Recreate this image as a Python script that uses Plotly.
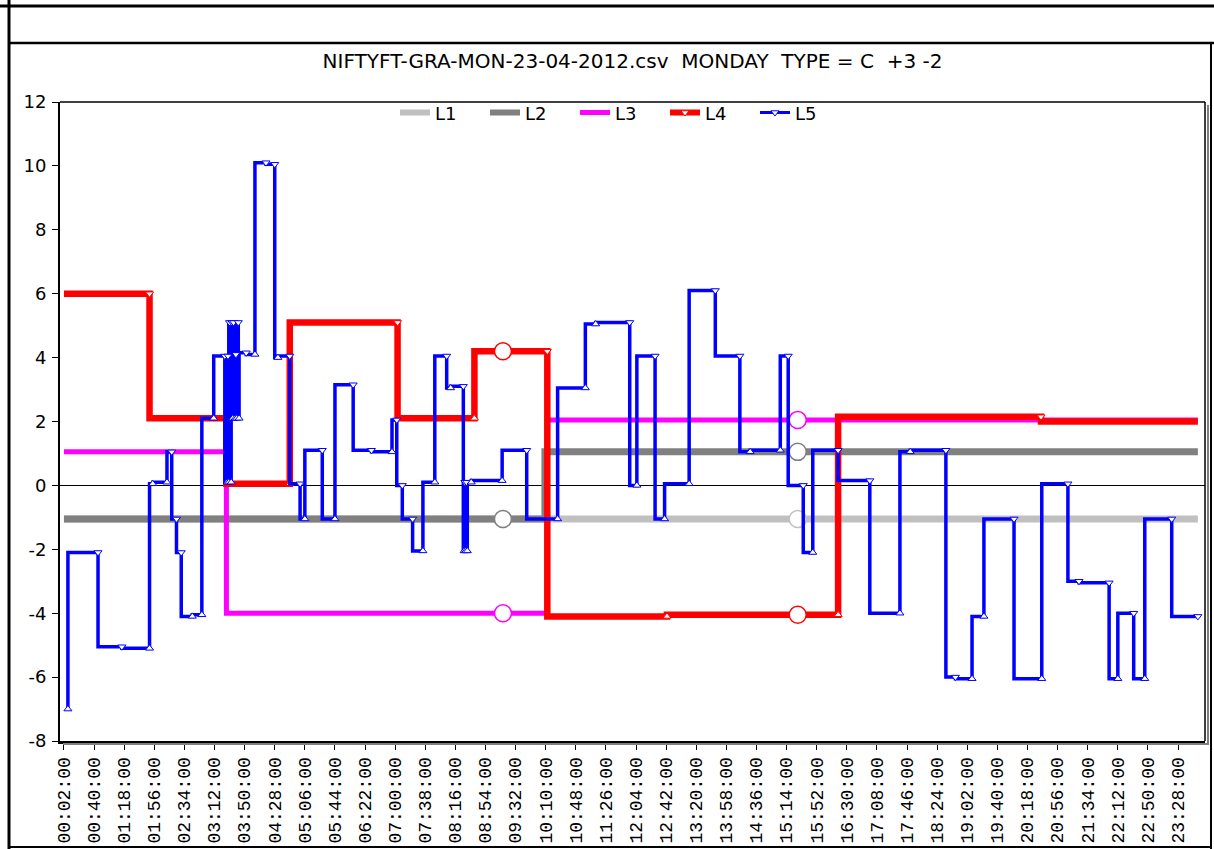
import plotly.graph_objects as go

# ---------------- data ----------------
tick_labels = ["00:02:00", "00:40:00", "01:18:00", "01:56:00", "02:34:00", "03:12:00",
               "03:50:00", "04:28:00", "05:06:00", "05:44:00", "06:22:00", "07:00:00",
               "07:38:00", "08:16:00", "08:54:00", "09:32:00", "10:10:00", "10:48:00",
               "11:26:00", "12:04:00", "12:42:00", "13:20:00", "13:58:00", "14:36:00",
               "15:14:00", "15:52:00", "16:30:00", "17:08:00", "17:46:00", "18:24:00",
               "19:02:00", "19:40:00", "20:18:00", "20:56:00", "21:34:00", "22:12:00",
               "22:50:00", "23:28:00"]
y_ticks = [-8, -6, -4, -2, 0, 2, 4, 6, 8, 10, 12]

START = 2  # minute of day where the level lines begin

# level lines: minute where each held level ends, and the level
L1_end = [1433]
L1_val = [-1.05]
L2_end = [609, 1433]
L2_val = [-1.05, 1.05]
L3_end = [207, 612, 1433]
L3_val = [1.05, -4.0, 2.05]
L4_end = [110, 207, 287, 423, 520, 612, 763, 979, 1235, 1433]
L4_val = [6.0, 2.1, 0.05, 5.1, 2.1, 4.2, -4.1, -4.05, 2.15, 2.0]

# L5: minute of each sample and value
L5_time = [7, 45, 75, 110, 114, 132, 138, 144, 150, 164, 176, 191, 205, 208, 209, 210,
           211, 213, 214, 215, 216, 218, 219, 220, 222, 223, 232, 243, 257, 268, 272, 287,
           300, 306, 328, 344, 367, 390, 416, 422, 429, 442, 455, 470, 485, 490, 506, 507,
           508, 509, 510, 511, 516, 555, 586, 625, 660, 673, 716, 725, 748, 760, 791, 824,
           855, 868, 906, 916, 935, 947, 979, 1019, 1057, 1070, 1115, 1127, 1148, 1163,
           1201, 1236, 1269, 1283, 1321, 1332, 1352, 1366, 1400, 1433]
L5_val = [-7.0, -2.1, -5.05, -5.1, 0.05, 0.1, 1.05, -1.05, -2.1, -4.1, -4.05, 2.1, 4.05, 0.1, 4.05, 0.1,
          5.1, 0.1, 5.1, 2.1, 5.1, 2.1, 4.1, 2.1, 5.1, 2.1, 4.15, 4.1, 10.1, 10.05, 4.0, 4.05,
          0.05, -1.05, 1.1, -1.05, 3.15, 1.1, 1.05, 2.05, 0.0, -1.05, -2.05, 0.1, 4.05, 3.05, 3.1, -2.05,
          0.1, -2.05, 0.1, -2.05, 0.1, 0.15, 1.1, -1.05, 3.05, 5.05, 5.1, 0.0, 4.05, -1.05, 0.05, 6.1,
          4.05, 1.05, 1.1, 4.05, 0.0, -2.1, 1.1, 0.15, -4.0, 1.05, 1.1, -6.0, -6.05, -4.1,
          -1.05, -6.05, 0.05, -3.0, -3.05, -6.05, -4.0, -6.05, -1.05, -4.1]

circle_times = [556, 928]

# ---------------- helpers ----------------
def to_min(s):
    h, m, _ = s.split(":")
    return int(h) * 60 + int(m)

tick_vals = [to_min(s) for s in tick_labels]

L, R, T, B = 60, 9, 102, 108
W, H = 1214, 849
PW, PH = W - L - R, H - T - B

def px2x(px):
    return (px - L) / PW

def py2y(py):
    return (H - B - py) / PH

def level_at(ends, vals, t):
    for e, v in zip(ends, vals):
        if t <= e:
            return v
    return vals[-1]

def symbols(vals, last="triangle-down"):
    out = []
    for i, v in enumerate(vals):
        if i + 1 < len(vals):
            out.append("triangle-up" if vals[i + 1] > v else "triangle-down")
        else:
            out.append(last)
    return out

FONT = "DejaVu Sans, Verdana, sans-serif"
series = [
    ("L1", L1_end, L1_val, "#C0C0C0", 7),
    ("L2", L2_end, L2_val, "#808080", 7),
    ("L3", L3_end, L3_val, "#FF00FF", 5),
    ("L4", L4_end, L4_val, "#FF0000", 6.5),
]

fig = go.Figure()

# legend entries
for name, _, _, col, w in series:
    fig.add_trace(go.Scatter(x=[None], y=[None], mode="lines", name=name,
                             line=dict(color=col, width=min(w, 6))))
fig.data[-1].update(mode="lines+markers",
                    marker=dict(symbol="triangle-down", size=7, color="white",
                                line=dict(color="#FF0000", width=1)))
fig.add_trace(go.Scatter(x=[None], y=[None], mode="lines+markers", name="L5",
                         line=dict(color="#0000FF", width=3),
                         marker=dict(symbol="triangle-down", size=7, color="white",
                                     line=dict(color="#0000FF", width=1))))

for name, ends, vals, col, w in series:
    xs = [START] + ends
    ys = [vals[0]] + vals
    fig.add_trace(go.Scatter(x=xs, y=ys, mode="lines", line_shape="vh",
                             line=dict(color=col, width=w), showlegend=False,
                             hoverinfo="skip"))
    if name == "L4":
        fig.add_trace(go.Scatter(x=ends[:-1], y=vals[:-1], mode="markers",
                                 marker=dict(symbol=symbols(vals)[:-1], size=7, color="white",
                                             line=dict(color=col, width=1)),
                                 showlegend=False, hoverinfo="skip"))
    cy = [level_at(ends, vals, t) for t in circle_times]
    fig.add_trace(go.Scatter(x=circle_times, y=cy, mode="markers",
                             marker=dict(symbol="circle", size=17, color="white",
                                         line=dict(color=col, width=1.5)),
                             showlegend=False, hoverinfo="skip"))

fig.add_trace(go.Scatter(x=L5_time, y=L5_val, mode="lines", line_shape="vh",
                         line=dict(color="#0000FF", width=3.5), showlegend=False,
                         hoverinfo="skip"))
fig.add_trace(go.Scatter(x=L5_time, y=L5_val, mode="markers",
                         marker=dict(symbol=symbols(L5_val), size=7, color="white",
                                     line=dict(color="#0000FF", width=1)),
                         showlegend=False, hoverinfo="skip"))

# frame shapes
def line_shape(x0, y0, x1, y1, color="black", width=2):
    return dict(type="line", xref="paper", yref="paper", x0=px2x(x0), y0=py2y(y0),
                x1=px2x(x1), y1=py2y(y1), line=dict(color=color, width=width), layer="above")

shapes = [
    line_shape(0, 6, W, 6, width=3),
    line_shape(9, 0, 9, H, width=3),
    line_shape(9, 43, W, 43, width=2.5),
    line_shape(1211, 43, 1211, H, width=2),
    line_shape(9, 847, 1211, 847, width=2),
    line_shape(L, T, W - R, T, width=1.5),
    line_shape(W - R, T, W - R, H - B, width=1.5),
    line_shape(W - R + 3, T + 3, W - R + 3, H - B + 4, color="#808080", width=2),
    line_shape(L + 3, H - B + 3, W - R + 3, H - B + 3, color="#808080", width=2),
]

fig.update_layout(
    width=W, height=H,
    margin=dict(l=L, r=R, t=T, b=B, autoexpand=False),
    paper_bgcolor="white", plot_bgcolor="white",
    font=dict(family=FONT, size=18, color="black"),
    title=dict(text="NIFTYFT-GRA-MON-23-04-2012.csv  MONDAY  TYPE = C  +3 -2",
               x=0.5, xref="paper", xanchor="center",
               y=1 - 61 / H, yref="container", yanchor="middle",
               font=dict(family=FONT, size=20, color="black")),
    legend=dict(orientation="h", x=px2x(395), xanchor="left", y=1.012, yanchor="top",
                bgcolor="rgba(0,0,0,0)", entrywidth=45, entrywidthmode="pixels",
                font=dict(family=FONT, size=18, color="black")),
    shapes=shapes,
    showlegend=True,
)

fig.update_xaxes(range=[-3, 1442], tickvals=tick_vals, ticktext=tick_labels,
                 tickangle=-90, ticks="outside", ticklen=6, tickcolor="black", tickwidth=1,
                 showline=True, linecolor="black", linewidth=3, showgrid=False,
                 zeroline=False, tickfont=dict(family="Liberation Mono, monospace", size=18,
                                               color="black"))
fig.update_yaxes(range=[-8, 12], tickvals=y_ticks, ticktext=[str(v) for v in y_ticks],
                 ticks="outside", ticklen=6, tickcolor="black", tickwidth=1,
                 showline=True, linecolor="black", linewidth=2, showgrid=False,
                 zeroline=True, zerolinecolor="black", zerolinewidth=1,
                 ticklabelstandoff=2,
                 tickfont=dict(family=FONT, size=18, color="black"))

fig.write_html("out.html", config={"displayModeBar": False},
               post_script="document.body.style.margin='0';document.body.style.overflow='hidden';")
